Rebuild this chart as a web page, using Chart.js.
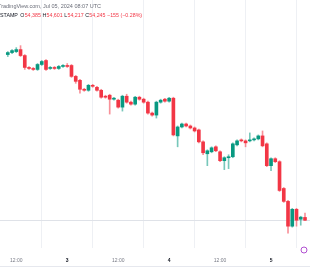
<!DOCTYPE html>
<html>
<head>
<meta charset="utf-8">
<script src="https://cdn.jsdelivr.net/npm/chart.js@4.4.0/dist/chart.umd.min.js"></script>
<style>
  body { margin: 0; background: #fff; }
  #chart { display: block; }
</style>
</head>
<body>
<canvas id="chart" width="310" height="280"></canvas>
<script>
// hourly candles, Jul 2 10:00 -> Jul 5 08:00 (UTC)
const times = [
  "07-02 10:00","07-02 11:00","07-02 12:00","07-02 13:00","07-02 14:00","07-02 15:00","07-02 16:00",
  "07-02 17:00","07-02 18:00","07-02 19:00","07-02 20:00","07-02 21:00","07-02 22:00","07-02 23:00",
  "07-03 00:00","07-03 01:00","07-03 02:00","07-03 03:00","07-03 04:00","07-03 05:00","07-03 06:00","07-03 07:00",
  "07-03 08:00","07-03 09:00","07-03 10:00","07-03 11:00","07-03 12:00","07-03 13:00","07-03 14:00","07-03 15:00",
  "07-03 16:00","07-03 17:00","07-03 18:00","07-03 19:00","07-03 20:00","07-03 21:00","07-03 22:00","07-03 23:00",
  "07-04 00:00","07-04 01:00","07-04 02:00","07-04 03:00","07-04 04:00","07-04 05:00","07-04 06:00","07-04 07:00",
  "07-04 08:00","07-04 09:00","07-04 10:00","07-04 11:00","07-04 12:00","07-04 13:00","07-04 14:00","07-04 15:00",
  "07-04 16:00","07-04 17:00","07-04 18:00","07-04 19:00","07-04 20:00","07-04 21:00","07-04 22:00","07-04 23:00",
  "07-05 00:00","07-05 01:00","07-05 02:00","07-05 03:00","07-05 04:00","07-05 05:00","07-05 06:00","07-05 07:00",
  "07-05 08:00"
];

const open = [
  62595,62695,62745,62845,62545,61945,61895,61845,62095,62295,
  61895,61945,61895,61995,62045,62045,61495,61295,60845,60795,
  61045,60945,60795,60495,60545,60345,60295,59945,60495,60195,
  60095,60445,60345,60195,59645,59545,60195,60345,60245,60395,
  58495,58945,59095,58995,58895,58795,58195,57595,57695,57945,
  57695,57245,57395,57445,58045,58295,58245,58245,58295,58345,
  58495,58095,56995,57345,57195,55845,55195,53945,54795,54295,
  54385
];
const high = [
  62745,62845,62945,63045,62595,61995,61945,62145,62295,62345,
  61995,61995,62045,62095,62145,62095,61545,61345,60895,61095,
  61095,60995,60845,60545,60595,60445,60345,60545,60595,60245,
  60495,60495,60395,60245,59695,60245,60345,60395,60445,60445,
  58995,59145,59145,59045,58945,58845,58245,57795,57945,57995,
  57745,57445,57545,58145,58295,58345,58295,58645,58395,58545,
  58745,58145,57395,57395,57245,55895,55245,54845,54845,54445,
  54601
];
const low = [
  62495,62645,62695,62495,61845,61845,61795,61795,62045,61795,
  61845,61845,61845,61945,61945,61445,61145,60645,60745,60745,
  60945,60745,60395,60395,59595,60295,59895,59745,60145,60045,
  60045,60295,60145,59595,59495,59395,60145,60195,60195,58495,
  57945,58895,58945,58845,58695,58145,57545,56995,57645,57695,
  57195,56795,56845,57395,57995,58195,57945,58195,58245,58295,
  57945,56945,56745,57145,55695,55145,53595,53895,53945,53995,
  54217
];
const close = [
  62695,62795,62845,62545,61945,61895,61845,62095,62245,61845,
  61945,61895,61995,62045,61995,61495,61245,60845,60795,61045,
  60995,60795,60445,60445,60345,60370,59945,60495,60195,60095,
  60445,60345,60195,59645,59545,60195,60295,60245,60395,58545,
  58945,59095,58995,58895,58745,58195,57645,57745,57895,57745,
  57245,57395,57445,58095,58245,58245,58145,58295,58345,58495,
  57995,56995,57345,57195,55745,55195,53945,54795,54245,54400,
  54245
];

const xTickLabels = {
  "07-02 12:00": "12:00", "07-03 00:00": "3", "07-03 12:00": "12:00",
  "07-04 00:00": "4", "07-04 12:00": "12:00", "07-05 00:00": "5"
};

const headerTitle = "TradingView.com, Jul 05, 2024 08:07 UTC";
const headerParts = [
  ["STAMP", "dark", 2.5], ["O", "dark", 0.2], ["54,385", "red", 1.6],
  ["H", "dark", 0.2], ["54,601", "red", 1.6], ["L", "dark", 0.2], ["54,217", "red", 1.6],
  ["C", "dark", 0.2], ["54,245", "red", 1.6], ["\u2212155 (\u22120.28%)", "red", 0]
];

const UP = "#089981", DOWN = "#f23645";
const UP_WICK = "rgba(8,153,129,0.55)", DOWN_WICK = "rgba(242,54,69,0.55)";
const GRID = "#eef0f4";
const FONT = '"Liberation Sans", Arial, sans-serif';

const isUp = open.map((o, i) => close[i] >= o);
const bodies = open.map((o, i) => [o, close[i]]);
const wicks = low.map((l, i) => [l, high[i]]);

const overlay = {
  id: "overlay",
  beforeDatasetsDraw(chart) {
    const ctx = chart.ctx;
    const y = Math.round(chart.scales.y.getPixelForValue(close[close.length - 1])) + 0.5;
    ctx.save();
    ctx.strokeStyle = "#dfe2e8";
    ctx.lineWidth = 1;
    ctx.beginPath();
    ctx.moveTo(0, y);
    ctx.lineTo(chart.width, y);
    ctx.stroke();
    ctx.restore();
  },
  afterDraw(chart) {
    const ctx = chart.ctx;
    ctx.save();
    // bottom edge of time axis
    ctx.strokeStyle = "#e6e8ee";
    ctx.beginPath();
    ctx.moveTo(0, 266.5);
    ctx.lineTo(chart.width, 266.5);
    ctx.stroke();

    ctx.textBaseline = "middle";
    ctx.font = "5.5px " + FONT;
    ctx.fillStyle = "#6a6d78";
    ctx.fillText(headerTitle, -2, 6);

    ctx.font = "5.3px " + FONT;
    let x = 0;
    for (const [t, c, gap] of headerParts) {
      ctx.fillStyle = c === "red" ? DOWN : "#131722";
      ctx.fillText(t, x, 15.5);
      x += ctx.measureText(t).width + gap;
    }

    ctx.strokeStyle = "#b04fd0";
    ctx.lineWidth = 1;
    ctx.beginPath();
    ctx.arc(304, 250, 3, 0, Math.PI * 2);
    ctx.stroke();
    ctx.restore();
  }
};

new Chart(document.getElementById("chart"), {
  type: "bar",
  data: {
    labels: times,
    datasets: [
      {
        data: bodies,
        backgroundColor: isUp.map(u => (u ? UP : DOWN)),
        barThickness: 3,
        minBarLength: 1,
        grouped: false,
        clip: false,
        order: 0
      },
      {
        data: wicks,
        backgroundColor: isUp.map(u => (u ? UP_WICK : DOWN_WICK)),
        barThickness: 1,
        grouped: false,
        clip: false,
        order: 1
      }
    ]
  },
  plugins: [overlay],
  options: {
    responsive: false,
    animation: false,
    devicePixelRatio: 1,
    layout: { padding: { left: 1, right: 5, top: 0, bottom: 6 } },
    plugins: { legend: { display: false }, tooltip: { enabled: false } },
    scales: {
      x: {
        offset: false,
        border: { display: false },
        grid: { color: GRID, drawTicks: false },
        ticks: {
          autoSkip: false,
          maxRotation: 0,
          padding: 10,
          color: ctx => (times[ctx.tick.value].endsWith("00:00") ? "#131722" : "#787b86"),
          font: ctx => ({
            family: FONT,
            size: 5,
            weight: times[ctx.tick.value].endsWith("00:00") ? "bold" : "normal"
          }),
          callback(value) {
            const label = xTickLabels[this.getLabelForValue(value)];
            return label === undefined ? null : label;
          }
        }
      },
      y: {
        min: 52845,
        max: 65345,
        border: { display: false },
        grid: {
          drawTicks: false,
          color: ctx => (ctx.tick.value % 2000 === 0 ? GRID : "rgba(0,0,0,0)")
        },
        ticks: { display: false, stepSize: 2000 }
      }
    }
  }
});
</script>
</body>
</html>
